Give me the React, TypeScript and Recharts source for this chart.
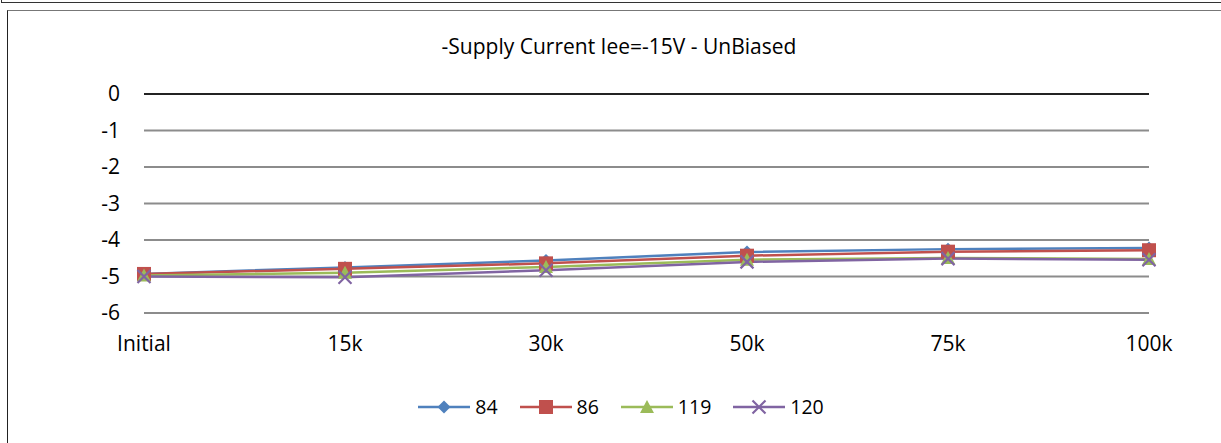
import React from 'react';
import { LineChart, Line, XAxis, YAxis, CartesianGrid, ReferenceLine, Legend } from 'recharts';

const categories = ['Initial', '15k', '30k', '50k', '75k', '100k'];
const s84 = [-4.93, -4.75, -4.56, -4.33, -4.25, -4.22];
const s86 = [-4.93, -4.79, -4.64, -4.43, -4.32, -4.28];
const s119 = [-4.97, -4.9, -4.74, -4.54, -4.49, -4.52];
const s120 = [-5.0, -5.02, -4.83, -4.6, -4.51, -4.54];
const yTicks = [0, -1, -2, -3, -4, -5, -6];

const SERIES = [
  { key: '84', values: s84, color: '#4F81BD', marker: 'diamond' },
  { key: '86', values: s86, color: '#C0504D', marker: 'square' },
  { key: '119', values: s119, color: '#9BBB59', marker: 'triangle' },
  { key: '120', values: s120, color: '#8064A2', marker: 'x' },
];

const data = categories.map((name, i) => {
  const row: any = { name };
  SERIES.forEach((s) => { row[s.key] = s.values[i]; });
  return row;
});

const FONT = '"Open Sans", sans-serif';

function Marker({ cx, cy, type, color, k }: any) {
  if (cx == null || cy == null) return null;
  if (type === 'diamond') {
    return <path key={k} d={`M${cx},${cy - 6.5}L${cx + 6.5},${cy}L${cx},${cy + 6.5}L${cx - 6.5},${cy}Z`} fill={color} />;
  }
  if (type === 'square') {
    return <rect key={k} x={cx - 7} y={cy - 7} width={14} height={14} fill={color} />;
  }
  if (type === 'triangle') {
    return <path key={k} d={`M${cx},${cy - 7}L${cx + 7},${cy + 6}L${cx - 7},${cy + 6}Z`} fill={color} />;
  }
  return (
    <path key={k} d={`M${cx - 6.5},${cy - 6.5}L${cx + 6.5},${cy + 6.5}M${cx + 6.5},${cy - 6.5}L${cx - 6.5},${cy + 6.5}`}
      stroke={color} strokeWidth={2.2} fill="none" />
  );
}

function LegendContent() {
  return (
    <div style={{ display: 'flex', justifyContent: 'center', alignItems: 'center', paddingLeft: 21, height: 24, fontFamily: FONT, fontSize: 19.5, color: '#000' }}>
      {SERIES.map((s, i) => (
        <div key={s.key} style={{ display: 'flex', alignItems: 'center', marginRight: i < SERIES.length - 1 ? 22 : 0 }}>
          <svg width={52} height={20}>
            <line x1={0} y1={10} x2={52} y2={10} stroke={s.color} strokeWidth={2.5} />
            <Marker cx={26} cy={10} type={s.marker} color={s.color} />
          </svg>
          <span style={{ marginLeft: 5, lineHeight: '24px' }}>{s.key}</span>
        </div>
      ))}
    </div>
  );
}

export default function App() {
  return (
    <div style={{ position: 'absolute', left: 0, top: 0, width: 1221, height: 443, overflow: 'hidden', background: '#fff' }}>
      <div style={{ position: 'absolute', left: 1, top: -20, width: 1300, height: 23, border: '1px solid #333', boxSizing: 'border-box' }} />
      <div style={{ position: 'absolute', left: 7, top: 10, width: 1300, height: 500, borderLeft: '1.5px solid #222', borderTop: '1.5px solid #777' }} />
      <div style={{ position: 'absolute', left: 0, top: 32, width: 1221, paddingLeft: 17, boxSizing: 'border-box', textAlign: 'center', fontFamily: FONT, fontSize: 21, lineHeight: '28px', color: '#000' }}>
        -Supply Current Iee=-15V - UnBiased
      </div>
      <div style={{ position: 'absolute', left: 0, top: 0 }}>
        <LineChart width={1221} height={443} data={data} margin={{ top: 94, right: 72, bottom: 24, left: 0 }}>
          <CartesianGrid vertical={false} stroke="#8c8c8c" strokeWidth={1.8} />
          <XAxis dataKey="name" axisLine={false} tickLine={false} tickSize={21} tickMargin={2} height={82}
            interval={0} tick={{ fontFamily: FONT, fontSize: 21, fill: '#000' }} />
          <YAxis domain={[-6, 0]} ticks={yTicks} axisLine={false} tickLine={false} width={144} tickSize={22} tickMargin={2}
            interval={0} tick={{ fontFamily: FONT, fontSize: 21, fill: '#000' }} />
          <ReferenceLine y={0} stroke="#000" strokeWidth={1.5} />
          {SERIES.map((s) => (
            <Line key={s.key} dataKey={s.key} stroke={s.color} strokeWidth={2.5} isAnimationActive={false}
              dot={(p: any) => <Marker k={`${s.key}-${p.index}`} cx={p.cx} cy={p.cy} type={s.marker} color={s.color} />}
              activeDot={false} />
          ))}
          <Legend verticalAlign="bottom" content={<LegendContent />} wrapperStyle={{ left: 0, width: 1221 }} />
        </LineChart>
      </div>
    </div>
  );
}
